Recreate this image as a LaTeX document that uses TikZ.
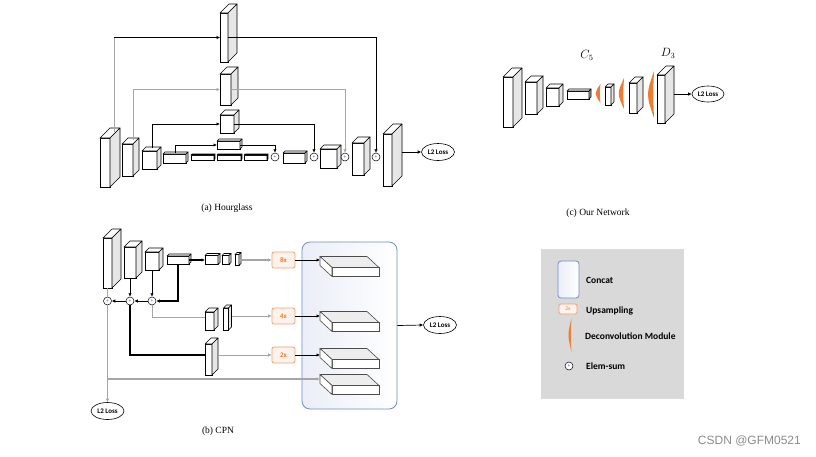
\documentclass[tikz,border=0pt]{standalone}
\usepackage{fontspec}
\setmainfont{Liberation Serif}
\newfontfamily\calibri{Carlito}
\newfontfamily\wmfont{Liberation Sans}
\usetikzlibrary{arrows.meta,shapes.geometric}

\definecolor{sidegray}{HTML}{E6E6E6}
\definecolor{linegray}{HTML}{A6A6A6}
\definecolor{deconvorange}{HTML}{ED7D31}
\definecolor{upfill}{HTML}{FDF3EC}
\definecolor{upline}{HTML}{F0A070}
\definecolor{concatblue}{HTML}{6F8CC8}
\definecolor{concatfill}{HTML}{EBEEF8}
\definecolor{legendgray}{HTML}{D9D9D9}

% block: [side options] name, x, y, width, height, depth
\newcommand{\cuboid}[7][]{%
	\node[cubefront, minimum width=#5pt, minimum height=#6pt] (#2) at (#3,#4) {};
	\draw[cubetop] (#2.north west) -- ++(#7pt,#7pt) -- ++(#5pt,0) -- (#2.north east) -- cycle;
	\draw[cubeside,#1] (#2.north east) -- ++(#7pt,#7pt) -- ++(0,-#6pt) -- (#2.south east) -- cycle;
}
% flat map inside the concat box: name, x, y
\newcommand{\slab}[3]{%
	\node[slabfront] (#1) at (#2,#3) {};
	\draw[slabtop] (#1.north west) -- ++(-12pt,11pt) -- ++(47pt,0) -- (#1.north east) -- cycle;
	\draw[slabside] (#1.north west) -- ++(-12pt,11pt) -- ++(0,-9pt) -- (#1.south west) -- cycle;
	\path (#1.west) ++(-12pt,11pt) coordinate (#1in);
}
% deconvolution module: x, top, bottom, bulge, thickness
\newcommand{\deconv}[5]{%
	\fill[deconvorange] (#1,#2) .. controls ({#1-#4},{(#2+#3)/2}) .. (#1,#3) .. controls ({#1-#4+#5},{(#2+#3)/2}) .. cycle;
}

\begin{document}
\begin{tikzpicture}[x=1pt,y=-1pt]
	\tikzstyle{every node}+=[inner sep=0pt]
	\tikzstyle{cubefront}=[draw, fill=white, outer sep=0pt, line width=0.6pt]
	\tikzstyle{cubetop}=[draw, fill=white, line width=0.6pt, line join=round]
	\tikzstyle{cubeside}=[draw, fill=sidegray, line width=0.6pt, line join=round]
	\tikzstyle{slabfront}=[draw=black!70, fill=white, outer sep=0pt, line width=0.6pt, minimum width=47pt, minimum height=9pt]
	\tikzstyle{slabtop}=[draw=black!70, fill=black!7, line width=0.6pt, line join=round]
	\tikzstyle{slabside}=[draw=black!70, fill=white, line width=0.6pt, line join=round]
	\tikzstyle{sumnode}=[circle, draw, fill=white, line width=0.5pt, minimum size=8pt, font=\fontsize{5}{5}\selectfont, text=blue]
	\tikzstyle{lossnode}=[ellipse, draw, fill=white, line width=0.6pt, minimum width=33pt, minimum height=17pt, font=\calibri\bfseries\fontsize{7}{8}\selectfont]
	\tikzstyle{upbox}=[draw=upline, fill=upfill, rounded corners=2pt, line width=0.8pt, minimum width=23pt, minimum height=16pt, text=deconvorange, font=\calibri\bfseries\fontsize{7}{8}\selectfont]
	\tikzstyle{concatbox}=[draw=concatblue, line width=0.8pt, rounded corners=8pt, left color=concatfill, right color=white]
	\tikzstyle{caption}=[font=\fontsize{9.5}{11}\selectfont]
	\tikzstyle{legendtext}=[anchor=west, font=\calibri\bfseries\fontsize{9.5}{11}\selectfont]
	\tikzstyle{arr}=[-{Latex[length=3.5pt,width=3.5pt]}]
	\tikzstyle{gline}=[draw=linegray, line width=0.8pt]
	\tikzstyle{gthick}=[draw=linegray, line width=1.4pt]
	\tikzstyle{bline}=[draw=black, line width=0.7pt]
	\tikzstyle{bthick}=[draw=black, line width=1.1pt]
	\fill[white] (0,0) rectangle (816,456);
	\useasboundingbox (0,0) rectangle (816,456);

	% (a) Hourglass
	\cuboid{hT1}{224}{37.5}{8}{49}{9}
	\cuboid{hT2}{225.5}{89.5}{11}{31}{7}
	\cuboid{hT3}{227}{124}{14}{18}{5}
	\cuboid{hT4}{228.5}{145}{23}{8}{2}
	\cuboid{hA}{105}{162.5}{10}{49}{10}
	\cuboid{hB}{127.5}{160}{11}{32}{6}
	\cuboid{hC}{149.5}{160}{15}{18}{4}
	\cuboid{hD}{174.5}{158.5}{23}{9}{2}
	\cuboid{hE}{202.5}{157.5}{23}{5}{1}
	\cuboid{hF}{229}{157.5}{24}{5}{1}
	\cuboid{hG}{255.5}{157.5}{23}{5}{1}
	\node[sumnode] (hs1) at (275,157) {+};
	\cuboid{hH}{294}{158}{22}{10}{2}
	\node[sumnode] (hs2) at (314,157) {+};
	\cuboid{hI}{328.5}{158.5}{17}{19}{4}
	\node[sumnode] (hs3) at (345,157) {+};
	\cuboid{hJ}{358}{159}{12}{32}{6}
	\node[sumnode] (hs4) at (376,157) {+};
	\cuboid{hK}{387.5}{160}{9}{52}{10}
	\node[lossnode] (hloss) at (438,152) {L2 Loss};
	\path (hK.east) ++(10pt,8pt) coordinate (hKout);
	\path (hA.north) ++(9pt,6pt) coordinate (hAtop);
	\draw[gline] (hAtop) -- (hAtop |- hT1.west);
	\draw[bline, line width=0.5pt, arr] (hAtop |- hT1.west) -- (hT1.west);
	\draw[bline, line width=0.5pt, arr] (hT1.east) -| (hs4.north);
	\draw[gline, arr] ([shift={(6pt,4pt)}]hB.north) |- (hT2.west);
	\draw[gline, arr] (hT2.east) -| (hs3.north);
	\draw[bline, arr] ([shift={(3pt,3pt)}]hC.north) |- (hT3.west);
	\draw[bline, arr] (hT3.east) -| (hs2.north);
	\draw[bline, arr] ([shift={(1pt,1pt)}]hD.north) |- (hT4.west);
	\draw[bline, arr] (hT4.east) -| (hs1.north);
	\draw[bline, arr] (hKout) -- (hloss.west);
	\node[caption] (capa) at (227,208) {(a) Hourglass};

	% (b) CPN
	\node[concatbox, minimum width=95pt, minimum height=167pt] (concat) at (349.5,325.5) {};
	\cuboid{cA}{107.5}{263}{9}{50}{9}
	\cuboid{cB}{130}{262.5}{12}{31}{6}
	\cuboid{cC}{152}{261}{14}{18}{4}
	\cuboid{cD}{178}{260}{22}{8}{2}
	\cuboid{cE}{211.5}{260}{13}{9}{2}
	\cuboid{cF}{225.5}{260}{7}{9}{2}
	\cuboid{cG}{237}{260}{4}{11}{2}
	\cuboid{cH}{209.5}{321}{9}{18}{4}
	\cuboid{cI}{226}{319}{5}{22}{3}
	\cuboid{cJ}{208.5}{359.5}{7}{31}{6}
	\node[sumnode] (cs1) at (107.5,301) {+};
	\node[sumnode] (cs2) at (130,301) {+};
	\node[sumnode] (cs3) at (152,301) {+};
	\node[upbox] (up8) at (283.5,260) {8x};
	\node[upbox] (up4) at (283.5,316) {4x};
	\node[upbox] (up2) at (283.5,355) {2x};
	\slab{sl1}{355.5}{272}
	\slab{sl2}{355.5}{327}
	\slab{sl3}{355.5}{364}
	\slab{sl4}{355.5}{390}
	\node[lossnode] (closs) at (107.5,411) {L2 Loss};
	\node[lossnode] (cat-loss) at (440,325) {L2 Loss};
	\path (cI.east |- up4.west) ++(3pt,0) coordinate (cIout);
	\path (cJ.east |- up2.west) ++(6pt,0) coordinate (cJout);
	\draw[gline] (cA.south) -- (cs1.north);
	\draw[bline, arr] (cB.south) -- (cs2.north);
	\draw[bline, arr] (cC.south) -- (cs3.north);
	\draw[bthick, arr] (cD.south) |- (cs3.east);
	\draw[bline, arr] (cs3.west) -- (cs2.east);
	\draw[bline, arr] (cs2.west) -- (cs1.east);
	\draw[bthick, arr] (cD.east) -- (cE.west);
	\draw[gthick, arr] (cG.east) -- (up8.west);
	\draw[gline] (cs3.south) |- ([yshift=4pt]cH.west);
	\draw[gline, arr] (cIout) -- (up4.west);
	\draw[bthick] (cs2.south) |- ([yshift=4.5pt]cJ.west);
	\draw[gline, arr] (cJout) -- (up2.west);
	\draw[gline, arr] (cs1.south) -- (closs.north);
	\draw[gthick, arr] (cs1 |- sl4in) -- (sl4in);
	\draw[bline, arr] (up8.east) -- (up8.east -| sl1in);
	\draw[bline, arr] (up4.east) -- (up4.east -| sl2in);
	\draw[bline, arr] (up2.east) -- (up2.east -| sl3in);
	\draw[bline, arr] (concat.east) -- (cat-loss.west);
	\node[caption] (capb) at (218,431) {(b) CPN};

	% (c) Our Network
	\cuboid{nA}{508}{102}{10}{50}{9}
	\cuboid{nB}{531}{98}{12}{32}{6}
	\cuboid{nC}{552.5}{97}{13}{18}{4}
	\cuboid[fill=black!35]{nD}{578}{95}{22}{8}{2}
	\deconv{600.5}{84}{103}{6.5}{5.5}
	\cuboid{nE}{608}{96}{6}{18}{3}
	\deconv{624}{78}{109}{7}{6}
	\cuboid{nF}{633}{98}{8}{30}{6}
	\deconv{654}{71}{118}{8}{7}
	\cuboid{nG}{661}{99}{8}{48}{9}
	\node[lossnode, minimum width=32pt, minimum height=16pt] (nloss) at (708,94) {L2 Loss};
	\path (nG.east) ++(9pt,5pt) coordinate (nGout);
	\draw[bline, arr] (nGout) -- (nloss.west);
	\node[font=\fontsize{12}{14}\selectfont] (c5) at (587,55) {$C_5$};
	\node[font=\fontsize{12}{14}\selectfont] (d3) at (668,53) {$D_3$};
	\node[caption] (capc) at (598,213) {(c) Our Network};

	% legend
	\fill[legendgray] (541,249) rectangle (684,399);
	\node[concatbox, rounded corners=3pt, minimum width=21pt, minimum height=37pt] (lgconcat) at (568.5,279.5) {};
	\node[legendtext] (lgconcattxt) at (586,280) {Concat};
	\node[upbox, rounded corners=1.5pt, minimum width=18pt, minimum height=10pt, font=\calibri\fontsize{5.5}{6}\selectfont] (lgup) at (568,309) {2x};
	\node[legendtext] (lguptxt) at (586,311) {Upsampling};
	\deconv{571.5}{318}{352}{4}{3}
	\node[legendtext] (lgdeconvtxt) at (585,336) {Deconvolution Module};
	\node[sumnode] (lgsum) at (569,366) {+};
	\node[legendtext] (lgsumtxt) at (586,366) {Elem-sum};

	\node[anchor=east, font=\wmfont\fontsize{12}{13}\selectfont, text=black!45] (wm) at (801,441) {CSDN @GFM0521};
\end{tikzpicture}
\end{document}
